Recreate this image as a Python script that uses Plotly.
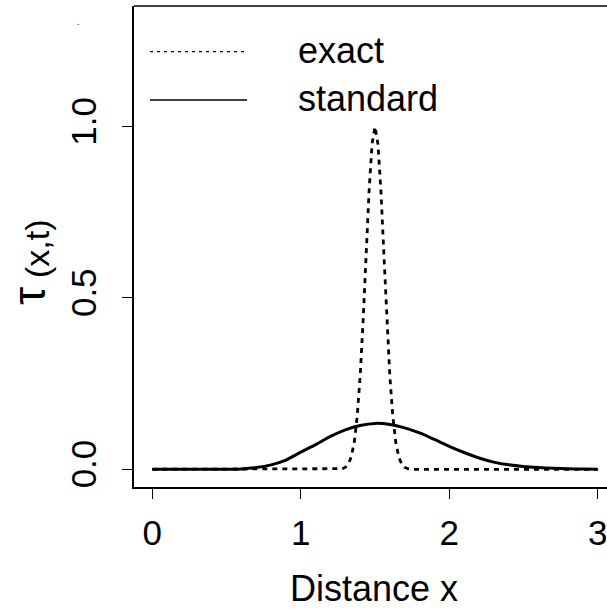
import plotly.graph_objects as go

# ---- data ----
x_standard = [0.0, 0.1, 0.2, 0.3, 0.4, 0.5, 0.6, 0.7, 0.8, 0.9, 1.0,
              1.1, 1.2, 1.3, 1.4, 1.5, 1.6, 1.7, 1.8, 1.9, 2.0,
              2.1, 2.2, 2.3, 2.4, 2.5, 2.6, 2.7, 2.8, 2.9, 3.0]
y_standard = [0.0, 0.0, 0.0, 0.0, 0.0, 0.0002, 0.001, 0.005, 0.013, 0.027, 0.050,
              0.072, 0.096, 0.115, 0.128, 0.134, 0.131, 0.121, 0.106, 0.087, 0.067,
              0.049, 0.033, 0.021, 0.013, 0.008, 0.005, 0.003, 0.0015, 0.0005, 0.0]

x_exact = [0.0, 1.0, 1.24, 1.26, 1.28, 1.30, 1.32, 1.34, 1.36, 1.38, 1.40,
           1.42, 1.44, 1.46, 1.48, 1.50, 1.52, 1.54, 1.56, 1.58, 1.60,
           1.62, 1.64, 1.66, 1.68, 1.70, 1.72, 1.74, 1.76, 2.0, 3.0]
y_exact = [0.0, 0.0, 0.0, 0.0006, 0.0018, 0.0055, 0.0148, 0.036, 0.078, 0.154, 0.272,
           0.435, 0.626, 0.812, 0.949, 1.0, 0.949, 0.812, 0.626, 0.435, 0.272,
           0.154, 0.078, 0.036, 0.0148, 0.0055, 0.0018, 0.0006, 0.0, 0.0, 0.0]

x_ticks = [0, 1, 2, 3]
x_ticklabels = ["0", "1", "2", "3"]
y_ticks = [0.0, 0.5, 1.0]
y_ticklabels = ["0.0", "0.5", "1.0"]
legend_labels = ["exact", "standard"]
x_title = "Distance x"

FONT = "Liberation Sans, Arial, Helvetica, sans-serif"
W, H = 607, 609
ML, MR, MT, MB = 134, 0, 6, 122
PW, PH = W - ML - MR, H - MT - MB


def px_x(p):
    return (p - ML) / PW


def px_y(p):
    return (H - MB - p) / PH


fig = go.Figure()
fig.add_trace(go.Scatter(x=x_exact, y=y_exact, mode="lines",
                         line=dict(color="black", width=2.8, dash="5px,5px"),
                         name=legend_labels[0], showlegend=False, hoverinfo="skip"))
fig.add_trace(go.Scatter(x=x_standard, y=y_standard, mode="lines",
                         line=dict(color="black", width=3, shape="spline", smoothing=0.8),
                         name=legend_labels[1], showlegend=False, hoverinfo="skip"))

axis_common = dict(showgrid=False, zeroline=False, showline=True, linecolor="black",
                   linewidth=1.5, ticks="outside", ticklen=10, tickwidth=1.3,
                   tickcolor="black", ticklabeloverflow="allow",
                   tickfont=dict(family=FONT, size=35, color="black"))

fig.update_xaxes(range=[-0.1233, 3.0626], tickvals=x_ticks, ticktext=x_ticklabels,
                 ticklabelstandoff=4, **axis_common)
fig.update_yaxes(range=[-0.0517, 1.3523], tickvals=y_ticks, ticktext=y_ticklabels,
                 tickangle=-90, ticklabelstandoff=12, **axis_common)

shapes = [
    # top border of the box
    dict(type="line", xref="paper", yref="paper", x0=0, x1=1.05, y0=1, y1=1,
         line=dict(color="black", width=1.5)),
    # legend samples
    dict(type="line", xref="paper", yref="paper", x0=px_x(150), x1=px_x(247),
         y0=px_y(51.7), y1=px_y(51.7), line=dict(color="black", width=1.2, dash="3px,4px")),
    dict(type="line", xref="paper", yref="paper", x0=px_x(150), x1=px_x(247),
         y0=px_y(100), y1=px_y(100), line=dict(color="black", width=1.4)),
]

annotations = [
    dict(text=legend_labels[0], xref="paper", yref="paper", x=px_x(296), y=px_y(51),
         xanchor="left", yanchor="middle", showarrow=False,
         font=dict(family=FONT, size=36, color="black")),
    dict(text=legend_labels[1], xref="paper", yref="paper", x=px_x(296), y=px_y(99),
         xanchor="left", yanchor="middle", showarrow=False,
         font=dict(family=FONT, size=36, color="black")),
    dict(text=x_title, xref="paper", yref="paper", x=px_x(374), y=px_y(588),
         xanchor="center", yanchor="middle", showarrow=False,
         font=dict(family=FONT, size=36, color="black")),
    dict(text="τ", xref="paper", yref="paper", x=px_x(1), y=px_y(296),
         xanchor="left", yanchor="middle", textangle=-90, showarrow=False,
         font=dict(family=FONT, size=46, color="black")),
    dict(text="(x,t)", xref="paper", yref="paper", x=px_x(37), y=px_y(249),
         xanchor="center", yanchor="middle", textangle=-90, showarrow=False,
         font=dict(family=FONT, size=34, color="black")),
    dict(text=".", xref="paper", yref="paper", x=px_x(78), y=px_y(22),
         xanchor="center", yanchor="middle", showarrow=False,
         font=dict(family=FONT, size=9, color="black")),
]

fig.update_layout(width=W, height=H, margin=dict(l=ML, r=MR, t=MT, b=MB, pad=0),
                  plot_bgcolor="white", paper_bgcolor="white",
                  shapes=shapes, annotations=annotations, showlegend=False)

fig.write_html("out.html", config={"displayModeBar": False},
               post_script="document.body.style.margin='0';document.body.style.overflow='hidden';")
